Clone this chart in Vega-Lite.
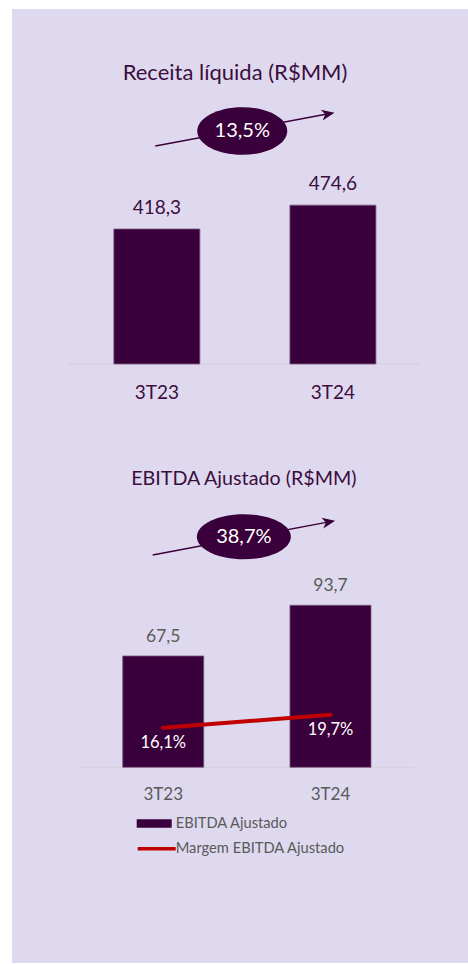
{
  "$schema": "https://vega.github.io/schema/vega-lite/v6.json",
  "background": "white",
  "padding": {"left": 12, "top": 9, "right": 0, "bottom": 1},
  "spacing": 0,
  "config": {
    "font": "Lato",
    "view": {"stroke": null, "fill": "#dfd9ef"},
    "locale": {"number": {"decimal": ",", "thousands": ".", "grouping": [3], "currency": ["R$", ""]}}
  },
  "datasets": {
    "receita": [
      {"periodo": "3T23", "ano": 2023, "valor": 418.3},
      {"periodo": "3T24", "ano": 2024, "valor": 474.6}
    ],
    "ebitda": [
      {"periodo": "3T23", "ano": 2023, "valor": 67.5, "margem": 0.161},
      {"periodo": "3T24", "ano": 2024, "valor": 93.7, "margem": 0.197}
    ]
  },
  "resolve": {
    "scale": {"x": "independent", "y": "independent", "fill": "independent", "stroke": "independent"},
    "legend": {"fill": "independent", "stroke": "independent"}
  },
  "vconcat": [
    {
      "width": 456,
      "height": 441,
      "data": {"name": "receita"},
      "encoding": {
        "x": {"field": "ano", "type": "quantitative", "axis": null, "scale": {"domain": [2022.2056, 2024.7389], "nice": false, "zero": false}},
        "y": {"field": "valor", "type": "quantitative", "axis": null, "scale": {"domain": [-102.8, 937.1], "nice": false, "zero": false}}
      },
      "layer": [
        {
          "transform": [{"filter": "datum.ano == 2023"}],
          "mark": {"type": "rule", "color": "#d3cfdb", "strokeWidth": 1},
          "encoding": {"x": {"datum": 2022.5, "axis": null}, "x2": {"datum": 2024.5}, "y": {"datum": 100, "axis": null}}
        },
        {
          "mark": {"type": "bar", "width": 86, "color": "#3a003c", "stroke": "#77597a", "strokeWidth": 0.8},
          "encoding": {
            "x": {"field": "ano", "type": "quantitative", "scale": {"domain": [2022.2056, 2024.7389], "nice": false, "zero": false},
                  "axis": {"values": [2022.5, 2023.5, 2024.5], "labels": false, "domain": false, "grid": false, "ticks": true, "tickSize": 6, "tickColor": "#d3cfdb", "tickWidth": 1, "title": null, "offset": -86}},
            "y2": {"datum": 100}
          }
        },
        {
          "mark": {"type": "text", "baseline": "middle", "dy": -21, "fontSize": 19, "color": "#3b0e3e"},
          "encoding": {"text": {"field": "valor", "type": "quantitative", "format": ".1f"}}
        },
        {
          "mark": {"type": "text", "baseline": "middle", "fontSize": 19, "color": "#3b0e3e"},
          "encoding": {"y": {"datum": 32.3, "axis": null}, "text": {"field": "periodo"}}
        },
        {
          "transform": [{"filter": "datum.ano == 2023"}],
          "mark": {"type": "text", "baseline": "middle", "fontSize": 22, "color": "#3b0e3e", "text": "Receita líquida (R$MM)"},
          "encoding": {"x": {"datum": 2023.444, "axis": null}, "y": {"datum": 785.2, "axis": null}}
        },
        {
          "transform": [{"filter": "datum.ano == 2023"}],
          "mark": {"type": "rule", "color": "#3a003c", "strokeWidth": 1.5},
          "encoding": {"x": {"datum": 2022.991, "axis": null}, "y": {"datum": 614.0, "axis": null}, "x2": {"datum": 2023.982}, "y2": {"datum": 690.5}}
        },
        {
          "transform": [{"filter": "datum.ano == 2023"}],
          "mark": {"type": "point", "shape": "M0,0L-1,-0.42L-0.72,0L-1,0.42Z", "size": 676, "filled": true, "color": "#3a003c", "opacity": 1, "strokeWidth": 0, "angle": 349.7},
          "encoding": {"x": {"datum": 2024.009, "axis": null}, "y": {"datum": 692.6, "axis": null}}
        },
        {
          "transform": [{"filter": "datum.ano == 2023"}],
          "mark": {"type": "point", "shape": "M-1,0A1,0.53,0,1,1,1,0A1,0.53,0,1,1,-1,0Z", "size": 8100, "filled": true, "color": "#3a003c", "opacity": 1, "strokeWidth": 0},
          "encoding": {"x": {"datum": 2023.485, "axis": null}, "y": {"datum": 649.4, "axis": null}}
        },
        {
          "transform": [{"filter": "datum.ano == 2023"}],
          "mark": {"type": "text", "baseline": "middle", "fontSize": 20, "color": "white", "text": "13,5%"},
          "encoding": {"x": {"datum": 2023.485, "axis": null}, "y": {"datum": 649.4, "axis": null}}
        }
      ]
    },
    {
      "width": 456,
      "height": 513,
      "data": {"name": "ebitda"},
      "encoding": {
        "x": {"field": "ano", "type": "quantitative", "axis": null, "scale": {"domain": [2022.1257, 2024.7924], "nice": false, "zero": false}}
      },
      "resolve": {"scale": {"y": "independent"}},
      "layer": [
        {
          "encoding": {
            "y": {"field": "valor", "type": "quantitative", "axis": null, "scale": {"domain": [-91.1, 173.9], "nice": false, "zero": false}}
          },
          "layer": [
            {
              "transform": [{"filter": "datum.ano == 2023"}],
              "mark": {"type": "rule", "color": "#d3cfdb", "strokeWidth": 1},
              "encoding": {"x": {"datum": 2022.5, "axis": null}, "x2": {"datum": 2024.5}, "y": {"datum": 10, "axis": null}}
            },
            {
              "mark": {"type": "bar", "width": 81, "stroke": "#77597a", "strokeWidth": 0.8},
              "encoding": {
                "x": {"field": "ano", "type": "quantitative", "scale": {"domain": [2022.1257, 2024.7924], "nice": false, "zero": false},
                      "axis": {"values": [2022.5, 2023.5, 2024.5], "labels": false, "domain": false, "grid": false, "ticks": true, "tickSize": 7, "tickColor": "#d3cfdb", "tickWidth": 1, "title": null, "offset": -196}},
                "y2": {"datum": 10},
                "fill": {"datum": "EBITDA Ajustado", "type": "nominal", "scale": {"range": ["#3a003c"]},
                         "legend": {"orient": "none", "legendX": 124.7, "legendY": 356, "title": null, "padding": 0,
                                    "symbolType": "M-1,-0.237H1V0.237H-1Z", "symbolSize": 1225, "symbolStrokeWidth": 0, "symbolOpacity": 1,
                                    "labelFontSize": 14.7, "labelColor": "#595959", "labelOffset": 4, "labelFont": "Lato", "labelLimit": 400}}
              }
            },
            {
              "mark": {"type": "text", "baseline": "middle", "dy": -19, "fontSize": 17.5, "color": "#595959"},
              "encoding": {"text": {"field": "valor", "type": "quantitative", "format": ".1f"}}
            },
            {
              "mark": {"type": "text", "baseline": "middle", "fontSize": 17, "color": "#595959"},
              "encoding": {"y": {"datum": -4.5, "axis": null}, "text": {"field": "periodo"}}
            },
            {
              "transform": [{"filter": "datum.ano == 2023"}],
              "mark": {"type": "text", "baseline": "middle", "fontSize": 19.7, "color": "#3b0e3e", "text": "EBITDA Ajustado (R$MM)"},
              "encoding": {"x": {"datum": 2023.482, "axis": null}, "y": {"datum": 158.8, "axis": null}}
            },
            {
              "transform": [{"filter": "datum.ano == 2023"}],
              "mark": {"type": "rule", "color": "#3a003c", "strokeWidth": 1.5},
              "encoding": {"x": {"datum": 2022.937, "axis": null}, "y": {"datum": 119.66, "axis": null}, "x2": {"datum": 2023.999}, "y2": {"datum": 136.9}}
            },
            {
              "transform": [{"filter": "datum.ano == 2023"}],
              "mark": {"type": "point", "shape": "M0,0L-1,-0.42L-0.72,0L-1,0.42Z", "size": 676, "filled": true, "color": "#3a003c", "opacity": 1, "strokeWidth": 0, "angle": 349.6},
              "encoding": {"x": {"datum": 2024.028, "axis": null}, "y": {"datum": 137.37, "axis": null}}
            },
            {
              "transform": [{"filter": "datum.ano == 2023"}],
              "mark": {"type": "point", "shape": "M-1,0A1,0.48,0,1,1,1,0A1,0.48,0,1,1,-1,0Z", "size": 8836, "filled": true, "color": "#3a003c", "opacity": 1, "strokeWidth": 0},
              "encoding": {"x": {"datum": 2023.482, "axis": null}, "y": {"datum": 129.1, "axis": null}}
            },
            {
              "transform": [{"filter": "datum.ano == 2023"}],
              "mark": {"type": "text", "baseline": "middle", "fontSize": 20, "color": "white", "text": "38,7%"},
              "encoding": {"x": {"datum": 2023.482, "axis": null}, "y": {"datum": 129.1, "axis": null}}
            }
          ]
        },
        {
          "encoding": {
            "y": {"field": "margem", "type": "quantitative", "axis": null, "scale": {"domain": [-0.4906, 0.930], "nice": false, "zero": false}}
          },
          "layer": [
            {
              "mark": {"type": "line", "strokeWidth": 4, "strokeCap": "round"},
              "encoding": {
                "stroke": {"datum": "Margem EBITDA Ajustado", "type": "nominal", "scale": {"range": ["#c00000"]},
                           "legend": {"orient": "none", "legendX": 123.7, "legendY": 377.7, "title": null, "padding": 0,
                                      "symbolType": "stroke", "symbolSize": 1444, "symbolStrokeWidth": 3.5,
                                      "labelFontSize": 14.7, "labelColor": "#595959", "labelOffset": -2, "labelFont": "Lato", "labelLimit": 400}}
              }
            },
            {
              "mark": {"type": "text", "baseline": "middle", "dy": 15, "fontSize": 16.5, "color": "white"},
              "encoding": {"text": {"field": "margem", "type": "quantitative", "format": ".1%"}}
            }
          ]
        }
      ]
    }
  ]
}
